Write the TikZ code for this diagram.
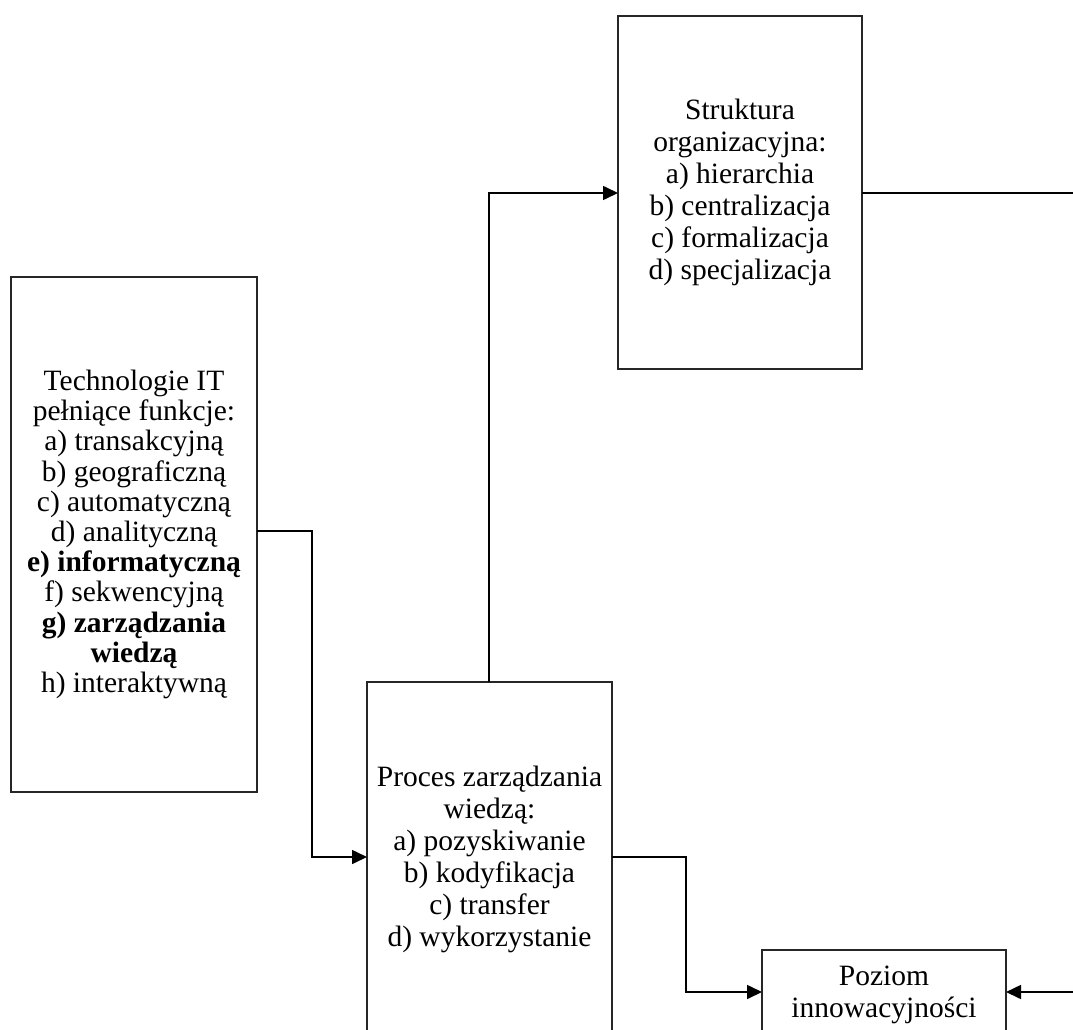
\documentclass[tikz,border=0pt]{standalone}
\usepackage{fontspec}
\setmainfont{Liberation Serif}
\usetikzlibrary{arrows.meta}

\tikzset{
  block/.style={draw=black!85, line width=1.6pt, rectangle, inner sep=0pt,
    outer sep=0pt, anchor=north west, align=center,
    font=\fontsize{29.5}{32}\selectfont},
  link/.style={draw=black, line width=1.6pt},
  arrowlink/.style={link, -{Triangle[length=15pt,width=14pt]}}
}

\begin{document}
\begin{tikzpicture}[x=1pt, y=-1pt]
  \useasboundingbox (0,0) rectangle (1073,1030);
  \clip (0,0) rectangle (1073,1030);
  \fill[white] (0,0) rectangle (1073,1030);

  % boxes
  \node[block, minimum width=246pt, minimum height=515pt,
        font=\fontsize{29.5}{30.2}\selectfont] (tech) at (11,277)
    {Technologie IT\\ pełniące funkcje:\\ a) transakcyjną\\ b) geograficzną\\
     c) automatyczną\\ d) analityczną\\ \textbf{e) informatyczną}\\
     f) sekwencyjną\\ \textbf{g) zarządzania}\\ \textbf{wiedzą}\\ h) interaktywną};

  \node[block, minimum width=245pt, minimum height=354pt] (proc) at (367,682)
    {Proces zarządzania\\ wiedzą:\\ a) pozyskiwanie\\ b) kodyfikacja\\
     c) transfer\\ d) wykorzystanie};

  \node[block, minimum width=244pt, minimum height=353pt] (struct) at (618,16)
    {Struktura\\ organizacyjna:\\ a) hierarchia\\ b) centralizacja\\
     c) formalizacja\\ d) specjalizacja};

  \node[block, minimum width=244pt, minimum height=89pt] (innov) at (762,950)
    {Poziom\\ innowacyjności};

  % bend points and free ends
  \coordinate (techout) at (257,531);
  \coordinate (bendA) at (312,531);
  \coordinate (procin) at (0,857);
  \coordinate (bendB) at (489,193);
  \coordinate (procout) at (0,857);
  \coordinate (bendC) at (686,857);
  \coordinate (bendD) at (686,992);
  \coordinate (edgeTop) at (1073,193);
  \coordinate (edgeBottom) at (1073,992);

  % connectors
  \draw[arrowlink] (techout) -- (bendA) |- (proc.west |- procin);
  \draw[arrowlink] (bendB |- proc.north) -- (bendB) -- (struct.west |- bendB);
  \draw[link] (struct.east |- edgeTop) -- (edgeTop);
  \draw[arrowlink] (proc.east |- procout) -- (bendC) -- (bendD) -- (innov.west |- bendD);
  \draw[arrowlink] (edgeBottom) -- (innov.east |- edgeBottom);
\end{tikzpicture}
\end{document}
